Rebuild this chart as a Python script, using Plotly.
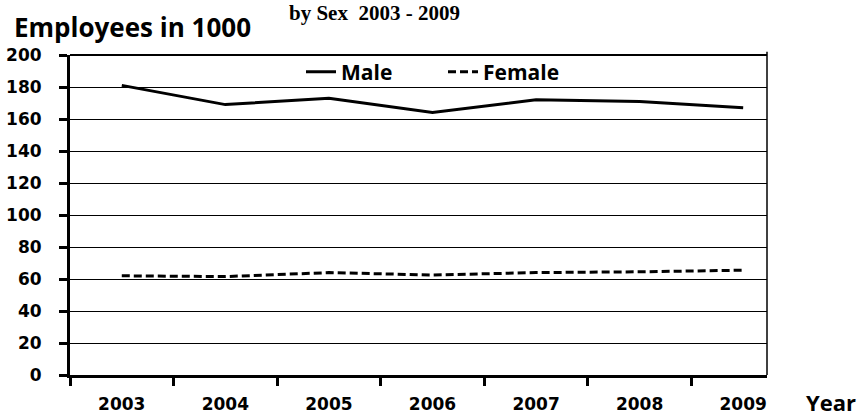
import plotly.graph_objects as go

years = ["2003", "2004", "2005", "2006", "2007", "2008", "2009"]
male = [181, 169, 173, 164, 172, 171, 167]
female = [62, 61.5, 64, 62.5, 64, 64.5, 65.5]
y_ticks = [0, 20, 40, 60, 80, 100, 120, 140, 160, 180, 200]

W, H = 864, 418
L, R, T, B = 70, 767, 55, 375


def px(x):
    return (x - L) / (R - L)


def py(y):
    return (B - y) / (B - T)


fig = go.Figure()
fig.add_trace(go.Scatter(x=years, y=male, mode="lines", name="Male",
                         line=dict(color="black", width=3)))
fig.add_trace(go.Scatter(x=years, y=female, mode="lines", name="Female",
                         line=dict(color="black", width=3, dash="8px,4px")))

fig.update_layout(
    template="none",
    width=W, height=H,
    margin=dict(l=L, r=W - R, t=T, b=H - B, autoexpand=False),
    paper_bgcolor="white", plot_bgcolor="white",
    showlegend=True,
    legend=dict(orientation="h", x=px(301), y=py(72), xanchor="left", yanchor="middle",
                bgcolor="rgba(0,0,0,0)", font=dict(family="Open Sans", size=21, color="black", weight="bold"),
                entrywidth=97, tracegroupgap=0),
    xaxis=dict(type="category", range=[-0.5, 6.23], tickson="boundaries", automargin=False,
               showgrid=False, showline=True, linecolor="black", linewidth=3,
               ticks="outside", ticklen=8, tickwidth=3, tickcolor="black",
               tickfont=dict(family="DejaVu Sans", size=17, color="black", weight="bold"),
               ticklabelstandoff=12, zeroline=False, fixedrange=True),
    yaxis=dict(range=[0, 200], tickvals=y_ticks, ticktext=[str(v) for v in y_ticks], automargin=False,
               showgrid=True, gridcolor="black", gridwidth=1.2,
               showline=True, linecolor="black", linewidth=3,
               ticks="outside", ticklen=8, tickwidth=3, tickcolor="black",
               tickfont=dict(family="DejaVu Sans", size=17, color="black", weight="bold"),
               ticklabelstandoff=14, zeroline=False, fixedrange=True),
    shapes=[dict(type="line", xref="paper", yref="paper", x0=1, x1=1, y0=0, y1=1.01,
                 line=dict(color="black", width=1.5)),
            dict(type="line", xref="paper", yref="paper", x0=0, x1=1, y0=1, y1=1,
                 line=dict(color="black", width=2))],
    annotations=[
        dict(text="by Sex  2003 - 2009", xref="paper", yref="paper", x=px(288), y=py(0),
             xanchor="left", yanchor="top", showarrow=False, borderpad=0,
             font=dict(family="Liberation Serif", size=21, color="black", weight="bold")),
        dict(text="Employees in 1000", xref="paper", yref="paper", x=px(12), y=py(27),
             xanchor="left", yanchor="middle", showarrow=False,
             font=dict(family="Open Sans", size=26, color="black", weight="bold")),
        dict(text="Year", xref="paper", yref="paper", x=px(804), y=py(402),
             xanchor="left", yanchor="middle", showarrow=False,
             font=dict(family="Open Sans", size=22, color="black", weight="bold")),
    ],
)

fig.write_html("out.html", config={"displayModeBar": False},
               post_script="document.body.style.margin='0';document.body.style.overflow='hidden';")
